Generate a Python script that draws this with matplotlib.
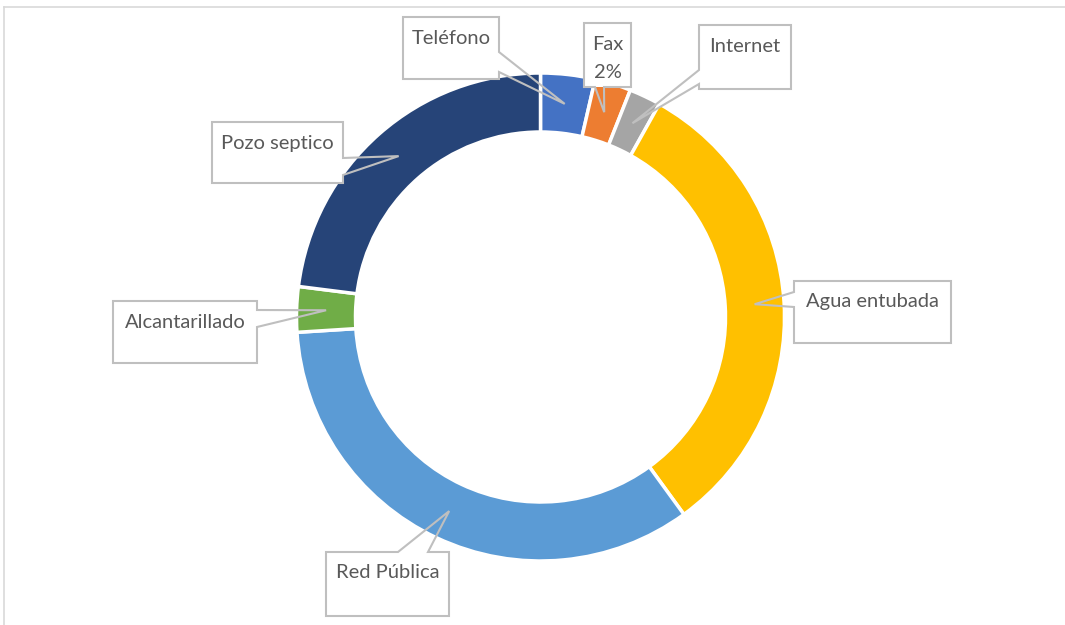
import numpy as np
import matplotlib.pyplot as plt
from matplotlib.patches import Polygon, Rectangle
from matplotlib.lines import Line2D

# Servicios básicos (porcentaje de hogares)
labels = ["Teléfono", "Fax", "Internet", "Agua entubada", "Red Pública",
          "Alcantarillado", "Pozo septico"]
values = [3.6, 2.4, 2.1, 31.9, 34.0, 3.0, 23.0]
colors = ["#4472C4", "#ED7D31", "#A5A5A5", "#FFC000", "#5B9BD5",
          "#70AD47", "#264478"]
pct_shown = ["Fax"]

W, H = 1065, 625

# cajas de etiqueta (izq, arriba, der, abajo), lado del pico y tramo de la base
boxes = {
    "Teléfono":       ((403, 17, 499, 79), "right", (52, 72)),
    "Fax":            ((584, 23, 631, 87), "bottom", (595, 604)),
    "Internet":       ((699, 25, 791, 89), "left", (70, 84)),
    "Agua entubada":  ((794, 281, 951, 343), "left", (292, 307)),
    "Red Pública":    ((326, 552, 449, 616), "top", (398, 428)),
    "Alcantarillado": ((113, 301, 257, 363), "right", (310, 327)),
    "Pozo septico":   ((212, 122, 343, 183), "right", (158, 175)),
}

plt.rcParams['font.family'] = ['Lato', 'DejaVu Sans']
fig = plt.figure(figsize=(W / 100, H / 100), dpi=100)
ax = fig.add_axes([0, 0, 1, 1])

cx, cy, R, ring = 540.5, 317, 244, 59
wedges, _ = ax.pie(values, colors=colors, startangle=-90, counterclock=True,
                   radius=R, center=(cx, cy),
                   wedgeprops=dict(width=ring, edgecolor="white", linewidth=2.5))
ax.set_xlim(0, W)
ax.set_ylim(H, 0)
ax.set_aspect("equal")
ax.axis("off")

# marco del área del gráfico
fig.add_artist(Line2D([4 / W, 1], [1 - 7 / H, 1 - 7 / H], color="#D9D9D9", lw=1.2))
fig.add_artist(Line2D([4 / W, 4 / W], [0, 1 - 7 / H], color="#D9D9D9", lw=1.2))


def outline(box, side, span, tip):
    l, t, r, b = box
    s0, s1 = span
    if side == "top":
        return [(l, t), (s0, t), tip, (s1, t), (r, t), (r, b), (l, b)]
    if side == "right":
        return [(l, t), (r, t), (r, s0), tip, (r, s1), (r, b), (l, b)]
    if side == "bottom":
        return [(l, t), (r, t), (r, b), (s1, b), tip, (s0, b), (l, b)]
    return [(l, t), (r, t), (r, b), (l, b), (l, s1), tip, (l, s0)]


total = sum(values)
r_mid = R - ring / 2
for w, lab, val in zip(wedges, labels, values):
    box, side, span = boxes[lab]
    ang = np.deg2rad((w.theta1 + w.theta2) / 2)
    tip = (cx + r_mid * np.cos(ang), cy + r_mid * np.sin(ang))
    l, t, r, b = box
    ax.add_patch(Rectangle((l, t), r - l, b - t, facecolor="white",
                           edgecolor="none", zorder=3))
    ax.add_patch(Polygon(outline(box, side, span, tip), closed=True,
                         facecolor="none", edgecolor="#BFBFBF", lw=1.5, zorder=4))
    xm = (l + r) / 2
    ax.text(xm, t + 21, lab, ha="center", va="center", fontsize=14.5,
            color="#595959", zorder=5)
    if lab in pct_shown:
        ax.text(xm, t + 49, f"{val / total * 100:.0f}%", ha="center",
                va="center", fontsize=14.5, color="#595959", zorder=5)

fig.savefig("out.png", dpi=100)
